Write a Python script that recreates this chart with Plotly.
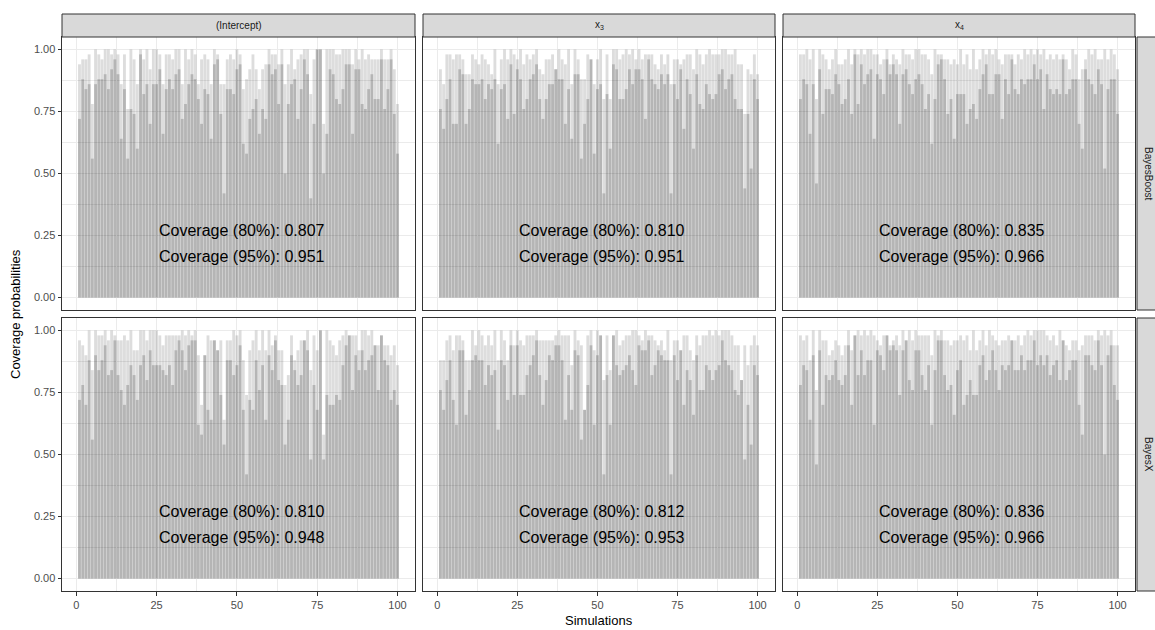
import plotly.graph_objects as go

# ---------------- data ----------------
simulations = list(range(1, 101))
col_labels = ["(Intercept)", "x<sub>3</sub>", "x<sub>4</sub>"]
row_labels = ["BayesBoost", "BayesX"]

# BayesBoost, (Intercept)
boost_int_95 = [.94,.96,.96,.98,.78,1.0,.98,.96,1.0,1.0,.98,1.0,.98,.86,.98,.76,1.0,.96,.86,1.0,
                .96,1.0,.92,1.0,1.0,.98,.86,.98,.98,.96,1.0,1.0,.86,1.0,.96,1.0,.98,.86,.96,.98,
                .96,.86,1.0,.98,.86,.86,.96,.98,.96,1.0,.98,
                .84,.88,.92,.98,.92,.84,.92,.94,1.0,.98,.98,.94,1.0,.86,.94,1.0,.92,.96,.98,1.0,
                1.0,.82,.96,1.0,1.0,.70,1.0,1.0,1.0,.98,.98,1.0,1.0,1.0,.94,1.0,.96,1.0,.96,.98,
                .96,.96,.96,1.0,.96,.96,1.0,.92,.78]
boost_int_80 = [.72,.88,.84,.86,.56,.86,.88,.88,.90,.84,.92,.96,.90,.64,.84,.56,.76,.74,.60,.98,
                .82,.86,.70,.86,.86,.92,.66,.84,.88,.84,.90,.92,.72,.78,.86,.90,.88,.80,.70,.84,
                .82,.64,.94,.96,.74,.42,.84,.84,.82,.92,.94,
                .62,.58,.72,.76,.80,.66,.76,.72,.94,.90,.92,.78,.94,.50,.78,.86,.88,.72,.84,.96,
                .90,.40,.70,1.0,1.0,.50,.66,.92,.90,.80,.78,.84,.94,.94,.66,.92,.92,.78,.76,.84,
                .90,.80,.80,.96,.76,.84,.96,.74,.58]

# BayesBoost, x3
boost_x3_95 = [.92,.86,.98,.98,.96,.98,.98,.96,.90,.90,.98,.96,.94,.98,.96,.94,.90,1.0,.86,.96,
               1.0,.96,1.0,.98,.96,1.0,.94,.98,.96,.98,1.0,.92,.90,.96,.96,.98,.92,1.0,.96,.94,
               1.0,.86,1.0,.96,.88,.88,.98,.96,.86,.96,1.0,
               .80,.98,.80,1.0,1.0,.96,.98,1.0,.98,1.0,.96,1.0,.96,.98,.98,.98,.94,.92,.98,.94,
               .98,.86,.96,.96,.94,.96,.98,.98,.92,1.0,.98,.94,.98,1.0,.98,.98,.98,1.0,1.0,.98,
               .98,1.0,.94,.94,.74,.92,.90,.98,.90]
boost_x3_80 = [.76,.68,.80,.88,.70,.70,.92,.90,.70,.76,.88,.86,.86,.88,.80,.86,.84,.88,.62,.84,
               .86,.72,.94,.74,.92,.88,.76,.80,.88,.90,.94,.80,.72,.80,.86,.86,.92,.88,.88,.70,
               .84,.64,.90,.90,.56,.70,.80,.96,.58,.84,.86,
               .42,.82,.60,.94,.92,.80,.80,.84,.92,.86,.92,.92,.88,.72,.96,.88,.86,.84,.90,.86,
               .90,.42,.86,.80,.92,.68,.88,.82,.60,.90,.78,.76,.86,.82,.80,.82,.90,.92,.84,.88,
               .90,.80,.76,.76,.44,.74,.52,.88,.80]

# BayesBoost, x4
boost_x4_95 = [.98,.98,1.0,.96,1.0,.80,1.0,.98,.96,.92,.96,1.0,.94,.94,.96,1.0,.94,1.0,.98,1.0,
               .98,1.0,1.0,.98,.98,.94,.96,1.0,.94,.98,.96,.94,1.0,.98,.98,.96,1.0,1.0,.98,.98,
               .96,.90,1.0,.98,.98,.96,.96,.94,.96,.94,
               1.0,.94,.98,.92,1.0,.92,.96,1.0,.98,1.0,.98,1.0,.96,.94,.98,.98,.98,.94,.98,.96,
               1.0,.98,1.0,.98,1.0,.98,1.0,.96,.98,.96,.98,.96,.98,.96,.92,1.0,.98,.88,.92,.96,
               1.0,.98,1.0,.96,.96,1.0,.96,1.0,.98,.92]
boost_x4_80 = [.80,.88,.86,.66,.86,.46,.92,.74,.84,.84,.82,.90,.86,.78,.80,.88,.74,.98,.78,.94,
               .86,.90,.92,.64,.90,.88,.82,.96,.90,.94,.90,.70,.90,.92,.86,.82,.88,.90,.86,.76,
               .82,.62,.80,.94,.96,.88,.74,.80,.64,.82,
               .82,.82,.70,.76,.78,.72,.84,.90,.94,.82,.82,.90,.90,.72,.88,.82,.96,.84,.82,.88,
               .86,.88,.88,.94,.88,.92,.76,.90,.84,.82,.84,.82,.96,.82,.84,.88,.88,.70,.60,.92,
               .88,.86,.82,.92,.86,.52,.84,.88,.88,.74]

# BayesX, (Intercept)
bx_int_95 = [.96,.94,.90,1.0,.84,1.0,.98,.98,1.0,.96,1.0,.98,.96,.96,.98,.96,1.0,.92,.92,1.0,
             1.0,.96,1.0,1.0,1.0,.98,.94,.98,.98,.98,.98,.98,1.0,.98,1.0,.98,1.0,.90,.70,.90,
             .98,.96,.96,.92,.96,.64,.96,.96,1.0,.98,1.0,
             .88,.74,.92,.96,1.0,.92,1.0,.92,1.0,.94,.98,.92,.92,.78,.82,.98,.88,.92,.96,.96,
             1.0,.84,.98,.92,1.0,.58,1.0,.96,.94,.90,.96,.98,1.0,.98,.98,.98,.92,1.0,1.0,.98,
             1.0,.94,.94,.98,.94,.94,.90,.94,.86]
bx_int_80 = [.72,.78,.70,.88,.56,.90,.84,.88,.94,.82,.84,.96,.82,.76,.70,.78,.86,.82,.72,.86,
             .90,.80,.92,.86,.86,.86,.84,.82,.86,.78,.92,.96,.92,.84,.94,.96,.96,.62,.58,.90,
             .68,.64,.96,.92,.74,.54,.88,.88,.82,.86,.94,
             .68,.42,.72,.68,.88,.76,.86,.64,.90,.84,.96,.80,.78,.54,.64,.90,.84,.78,.82,.96,
             .92,.48,.78,.68,1.0,.48,.74,.70,.70,.74,.72,.86,.94,.98,.76,.90,.84,.92,.84,.88,
             .90,.94,.76,.98,.88,.86,.72,.76,.70]

# BayesX, x3
bx_x3_95 = [.88,.88,.96,.98,.92,.98,.98,.96,.88,.88,1.0,.94,1.0,.98,.94,.98,.94,1.0,.88,1.0,
            .96,.88,1.0,.94,1.0,.96,.94,.98,.98,.98,1.0,.96,.96,.96,.96,.96,.98,1.0,.98,.98,
            .98,.86,1.0,.96,.94,.68,.98,1.0,.92,1.0,
            .98,.80,.98,.84,.98,1.0,.94,.96,.98,.98,1.0,1.0,.98,.96,1.0,.98,.98,.96,.94,.96,
            .92,1.0,.88,.96,.96,.92,.98,.98,.92,.88,.98,.94,.98,.98,1.0,.98,1.0,.98,1.0,1.0,
            1.0,.98,.94,.94,.80,.94,.86,.94,.98,.94]
bx_x3_80 = [.76,.68,.80,.88,.72,.62,.92,.92,.66,.76,.88,.90,.88,.88,.78,.86,.82,.84,.60,.88,
            .86,.72,.94,.74,.94,.74,.74,.82,.86,.90,.96,.82,.70,.80,.90,.88,.94,.94,.88,.64,
            .82,.68,.92,.90,.56,.68,.78,.94,.62,.90,
            .98,.42,.82,.62,.98,.86,.82,.84,.86,.90,.84,.78,.94,.92,.92,.96,.82,.86,.92,.90,
            .88,.88,.42,.90,.80,.92,.70,.84,.80,.66,.90,.76,.76,.86,.84,.80,.84,.86,.96,.88,
            .86,.84,.76,.74,.80,.48,.70,.54,.86,.82]

# BayesX, x4
bx_x4_95 = [.98,.96,.98,.88,1.0,.76,1.0,.96,.96,.90,.92,.96,.94,.90,.94,1.0,.92,.98,1.0,.98,
            1.0,.98,1.0,.98,.96,.94,.98,.98,.94,.96,.98,.94,1.0,.96,1.0,.96,1.0,.98,.98,.98,
            .98,.90,1.0,.98,1.0,.96,.96,.94,.96,.96,
            .98,.96,.98,.92,1.0,.92,.96,1.0,.94,1.0,.98,.96,.94,.96,.96,.98,.96,.96,.98,.94,
            .98,1.0,.98,1.0,1.0,1.0,1.0,.98,.96,.98,.94,1.0,.96,.94,.92,.96,.96,.92,.94,.98,
            .98,.98,.96,1.0,.98,1.0,.98,1.0,.94,.94]
bx_x4_80 = [.78,.86,.84,.64,.90,.46,.92,.70,.82,.80,.82,.88,.80,.78,.82,.94,.70,.98,.82,.92,
            .82,.88,.88,.62,.92,.90,.84,.98,.92,.94,.92,.74,.92,.96,.80,.76,.92,.92,.82,.76,
            .86,.62,.84,.96,.96,.82,.76,.78,.66,.84,
            .88,.70,.74,.80,.74,.74,.86,.90,.80,.84,.92,.84,.76,.86,.84,.86,.96,.84,.84,.90,
            .84,.88,.88,.96,.86,.90,.86,.90,.82,.86,.88,.80,.96,.80,.84,.88,.88,.70,.58,.90,
            .90,.86,.84,.96,.86,.50,.90,.94,.78,.72]

cov95 = [[boost_int_95, boost_x3_95, boost_x4_95], [bx_int_95, bx_x3_95, bx_x4_95]]
cov80 = [[boost_int_80, boost_x3_80, boost_x4_80], [bx_int_80, bx_x3_80, bx_x4_80]]
summary_80 = [[0.807, 0.810, 0.835], [0.810, 0.812, 0.836]]
summary_95 = [[0.951, 0.951, 0.966], [0.948, 0.953, 0.966]]

x_ticks = [0, 25, 50, 75, 100]
y_ticks = [0, 0.25, 0.5, 0.75, 1.0]
y_ticktext = ["0.00", "0.25", "0.50", "0.75", "1.00"]

# ---------------- layout geometry (pixels) ----------------
W, H = 1155, 630
col_px = [(62, 415), (423, 775), (783, 1135)]
row_px = [(37, 310), (318, 591)]
strip_top = (14, 37)
strip_right = (1137, 1162)

def fx(p):
    return p / W

def fy(p):
    return 1 - p / H

FONT = "Liberation Sans, Arial, Helvetica, sans-serif"
GRID = "#EBEBEB"
BORDER = "#333333"

fig = go.Figure()
layout = dict(
    width=W, height=H, margin=dict(l=0, r=0, t=0, b=0),
    paper_bgcolor="white", plot_bgcolor="white",
    barmode="overlay", showlegend=False,
    font=dict(family=FONT, color="#1A1A1A"),
)
annotations = []
shapes = []

for r in range(2):
    for c in range(3):
        k = r * 3 + c + 1
        xs = "x" if k == 1 else f"x{k}"
        ys = "y" if k == 1 else f"y{k}"
        fig.add_trace(go.Bar(x=simulations, y=cov95[r][c], width=0.9,
                             marker=dict(color="rgba(0,0,0,0.135)", line=dict(width=0)),
                             xaxis=xs, yaxis=ys, hoverinfo="skip"))
        fig.add_trace(go.Bar(x=simulations, y=cov80[r][c], width=0.9,
                             marker=dict(color="rgba(0,0,0,0.18)", line=dict(width=0)),
                             xaxis=xs, yaxis=ys, hoverinfo="skip"))
        bottom = (r == 1)
        left = (c == 0)
        layout[f"xaxis{k}"] = dict(
            domain=[fx(col_px[c][0]), fx(col_px[c][1])],
            anchor=ys, range=[-4.445, 105.445],
            tickmode="array", tickvals=x_ticks,
            showticklabels=bottom, ticks="outside" if bottom else "",
            ticklen=3.5, tickwidth=1, tickcolor=BORDER,
            tickfont=dict(size=11, color="#4D4D4D", family=FONT),
            showgrid=True, gridcolor=GRID, gridwidth=1.1,
            minor=dict(tickmode="array", tickvals=[12.5, 37.5, 62.5, 87.5],
                       showgrid=True, gridcolor=GRID, gridwidth=0.55, ticks=""),
            zeroline=False, showline=True, mirror=True, linecolor=BORDER, linewidth=1,
            fixedrange=True,
        )
        layout[f"yaxis{k}"] = dict(
            domain=[fy(row_px[r][1]), fy(row_px[r][0])],
            anchor=xs, range=[-0.05, 1.05],
            tickmode="array", tickvals=y_ticks, ticktext=y_ticktext,
            showticklabels=left, ticks="outside" if left else "",
            ticklen=3.5, tickwidth=1, tickcolor=BORDER,
            tickfont=dict(size=11, color="#4D4D4D", family=FONT),
            showgrid=True, gridcolor=GRID, gridwidth=1.1,
            minor=dict(tickmode="array", tickvals=[0.125, 0.375, 0.625, 0.875],
                       showgrid=True, gridcolor=GRID, gridwidth=0.55, ticks=""),
            zeroline=False, showline=True, mirror=True, linecolor=BORDER, linewidth=1,
            fixedrange=True,
        )
        annotations.append(dict(text=f"Coverage (80%): {summary_80[r][c]:.3f}",
                                xref=xs, yref=ys, x=51.5, y=0.27, showarrow=False,
                                xanchor="center", yanchor="middle",
                                font=dict(size=16, color="black", family=FONT)))
        annotations.append(dict(text=f"Coverage (95%): {summary_95[r][c]:.3f}",
                                xref=xs, yref=ys, x=51.5, y=0.167, showarrow=False,
                                xanchor="center", yanchor="middle",
                                font=dict(size=16, color="black", family=FONT)))

# top strips
for c in range(3):
    x0, x1 = col_px[c]
    shapes.append(dict(type="rect", xref="paper", yref="paper",
                       x0=fx(x0), x1=fx(x1), y0=fy(strip_top[1]), y1=fy(strip_top[0]),
                       fillcolor="#D9D9D9", line=dict(color=BORDER, width=1), layer="above"))
    annotations.append(dict(text=col_labels[c], xref="paper", yref="paper",
                            x=fx((x0 + x1) / 2), y=fy((strip_top[0] + strip_top[1]) / 2),
                            showarrow=False, xanchor="center", yanchor="middle",
                            font=dict(size=10, color="#1A1A1A", family=FONT)))
# right strips
for r in range(2):
    y0, y1 = row_px[r]
    shapes.append(dict(type="rect", xref="paper", yref="paper",
                       x0=fx(strip_right[0]), x1=fx(strip_right[1]), y0=fy(y1), y1=fy(y0),
                       fillcolor="#D9D9D9", line=dict(color=BORDER, width=1), layer="above"))
    annotations.append(dict(text=row_labels[r], xref="paper", yref="paper",
                            x=fx(1148.5), y=fy((y0 + y1) / 2), textangle=90,
                            showarrow=False, xanchor="center", yanchor="middle",
                            font=dict(size=10, color="#1A1A1A", family=FONT)))

# axis titles
annotations.append(dict(text="Simulations", xref="paper", yref="paper",
                        x=fx((col_px[0][0] + col_px[2][1]) / 2), y=fy(620),
                        showarrow=False, xanchor="center", yanchor="middle",
                        font=dict(size=13, color="black", family=FONT)))
annotations.append(dict(text="Coverage probabilities", xref="paper", yref="paper",
                        x=fx(15), y=fy((row_px[0][0] + row_px[1][1]) / 2), textangle=-90,
                        showarrow=False, xanchor="center", yanchor="middle",
                        font=dict(size=13, color="black", family=FONT)))

layout["annotations"] = annotations
layout["shapes"] = shapes
fig.update_layout(**layout)
fig.write_html("out.html")
